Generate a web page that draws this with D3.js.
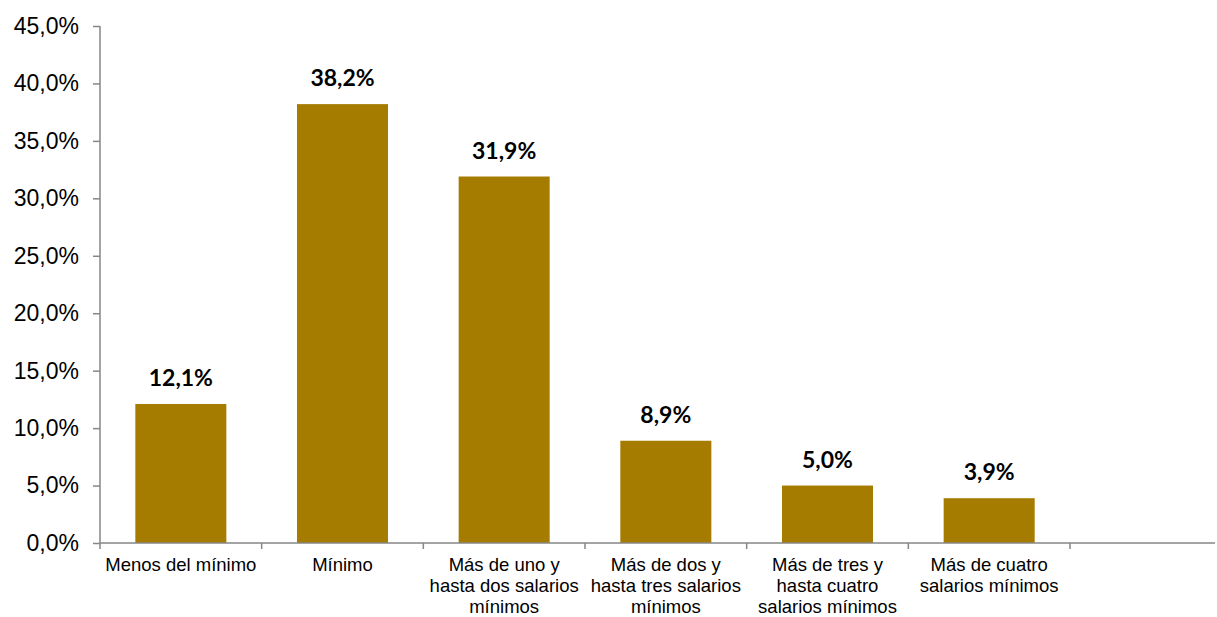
<!DOCTYPE html>
<html>
<head>
<meta charset="utf-8">
<script src="https://cdn.jsdelivr.net/npm/d3@7"></script>
<style>
  body { margin: 0; background: #fff; }
  svg { display: block; }
</style>
</head>
<body>
<script>
// categories and values (percent)
var categories = [
  ["Menos del mínimo"],
  ["Mínimo"],
  ["Más de uno y", "hasta dos salarios", "mínimos"],
  ["Más de dos y", "hasta tres salarios", "mínimos"],
  ["Más de tres y", "hasta cuatro", "salarios mínimos"],
  ["Más de cuatro", "salarios mínimos"]
];
var values = [12.1, 38.2, 31.9, 8.9, 5.0, 3.9];
var yTicks = [0, 5, 10, 15, 20, 25, 30, 35, 40, 45];

var width = 1217, height = 617;
var svg = d3.select("body").append("svg")
    .attr("width", width)
    .attr("height", height);

var x0 = 100, x1 = 1070, xEnd = 1215;
var yTop = 26, yBottom = 543;
var fmt = function (v) { return v.toFixed(1).replace(".", ",") + "%"; };

var x = d3.scaleBand()
    .domain(d3.range(values.length))
    .range([x0, x1])
    .paddingInner(0.437)
    .paddingOuter(0.2185);

var y = d3.scaleLinear().domain([0, 45]).range([yBottom, yTop]);

// bars
svg.append("g").selectAll("rect")
    .data(values)
    .enter().append("rect")
    .attr("x", function (d, i) { return x(i); })
    .attr("y", function (d) { return y(d); })
    .attr("width", x.bandwidth())
    .attr("height", function (d) { return yBottom - y(d); })
    .style("fill", "#A57C00");

// value labels
svg.append("g").selectAll("text")
    .data(values)
    .enter().append("text")
    .attr("x", function (d, i) { return x(i) + x.bandwidth() / 2; })
    .attr("y", function (d) { return y(d) - 18; })
    .attr("text-anchor", "middle")
    .style("font-family", "Lato, 'Open Sans', sans-serif")
    .style("font-weight", "bold")
    .style("font-size", "23px")
    .style("fill", "#000")
    .text(fmt);

// y axis
var yAxis = svg.append("g")
    .attr("transform", "translate(" + x0 + ",0)")
    .call(d3.axisLeft(y).tickValues(yTicks).tickSize(7).tickPadding(14).tickFormat(fmt));
yAxis.select(".domain").attr("d", "M0," + yTop + "V" + yBottom);
yAxis.selectAll("line, .domain").style("stroke", "#868686").style("stroke-width", "1.5px");
yAxis.selectAll("text")
    .style("font-family", "'Liberation Sans', Arial, sans-serif")
    .style("font-size", "23px")
    .style("fill", "#000");

// x axis line + ticks at band edges
var step = x.step();
var edges = d3.range(values.length + 1).map(function (i) { return x0 + i * step; });
svg.append("line")
    .attr("x1", x0).attr("x2", xEnd)
    .attr("y1", yBottom).attr("y2", yBottom)
    .style("stroke", "#868686").style("stroke-width", "1.5px");
svg.append("g").selectAll("line")
    .data(edges)
    .enter().append("line")
    .attr("x1", function (d) { return d; }).attr("x2", function (d) { return d; })
    .attr("y1", yBottom).attr("y2", yBottom + 6)
    .style("stroke", "#868686").style("stroke-width", "1.5px");

// category labels
var cat = svg.append("g").selectAll("text")
    .data(categories)
    .enter().append("text")
    .attr("text-anchor", "middle")
    .attr("x", function (d, i) { return x(i) + x.bandwidth() / 2; })
    .attr("y", 571)
    .style("font-family", "'Liberation Sans', Arial, sans-serif")
    .style("font-size", "18.5px")
    .style("fill", "#000");
cat.selectAll("tspan")
    .data(function (d) { return d; })
    .enter().append("tspan")
    .attr("x", function () { return d3.select(this.parentNode).attr("x"); })
    .attr("dy", function (d, i) { return i === 0 ? 0 : 21; })
    .text(function (d) { return d; });
</script>
</body>
</html>
